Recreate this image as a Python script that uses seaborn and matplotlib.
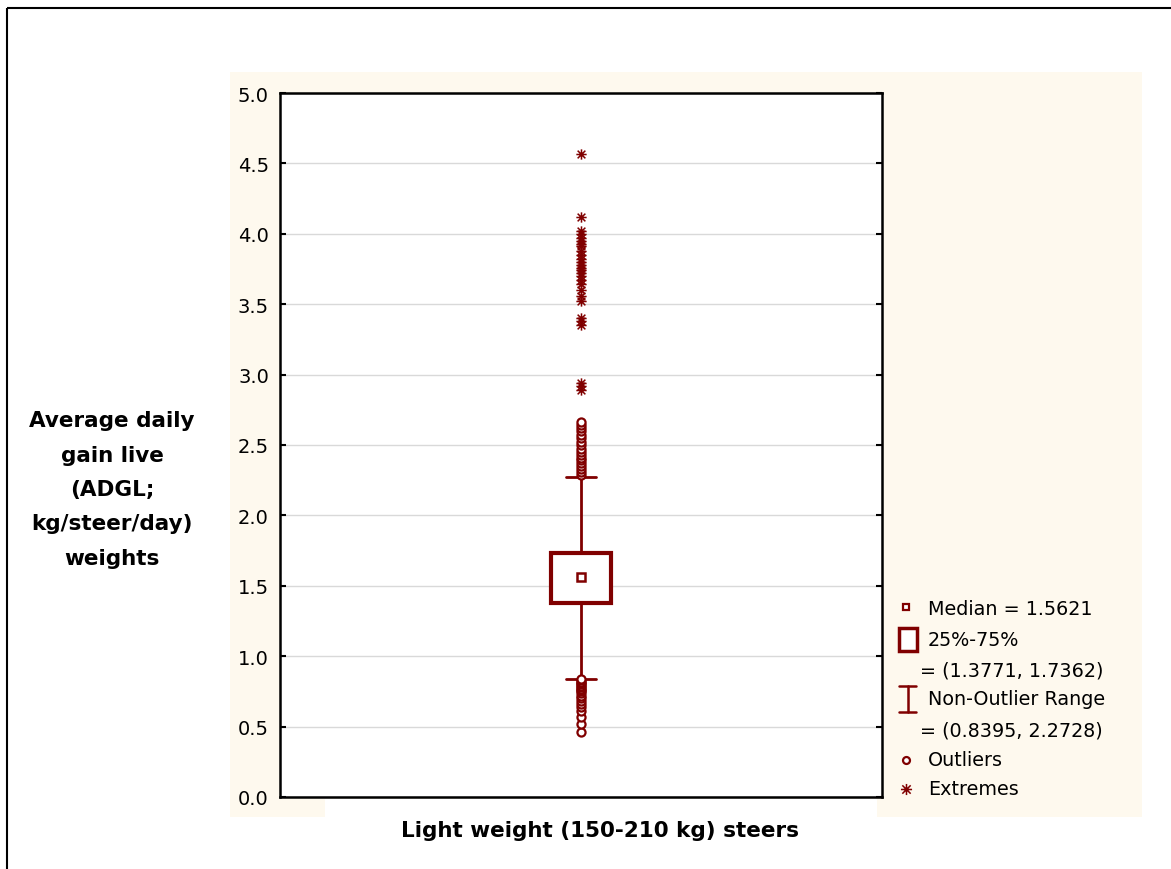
import numpy as np
import pandas as pd
import matplotlib
matplotlib.use("Agg")
import matplotlib.pyplot as plt
from matplotlib.patches import Rectangle
from matplotlib.path import Path
import seaborn as sns

# summary statistics of ADGL (kg/steer/day), light weight steers
median = 1.5621
q1, q3 = 1.3771, 1.7362
whislo, whishi = 0.8395, 2.2728

# points beyond the non-outlier range
outliers = [0.46, 0.52, 0.57, 0.61, 0.64, 0.66, 0.68, 0.70, 0.72, 0.74, 0.75,
            0.76, 0.77, 0.78, 0.79, 0.80, 0.81, 0.82, 0.83, 0.84,
            2.29, 2.31, 2.33, 2.35, 2.37, 2.39, 2.41, 2.43, 2.45, 2.47, 2.50,
            2.52, 2.55, 2.57, 2.60, 2.62, 2.64, 2.66]
extremes = [2.89, 2.92, 2.94, 3.35, 3.38, 3.40, 3.52, 3.56, 3.60, 3.64, 3.67,
            3.70, 3.72, 3.74, 3.76, 3.78, 3.80, 3.82, 3.85, 3.88, 3.91, 3.93,
            3.95, 3.97, 4.00, 4.02, 4.12, 4.57]

group = "Light weight (150-210 kg) steers"
ylabel = "Average daily\ngain live\n(ADGL;\nkg/steer/day)\nweights"
yticks = np.arange(0, 5.01, 0.5)

RED = "#800000"
CREAM = "#FEF9EE"

sns.set_theme(style="white")
plt.rcParams["font.family"] = ["DejaVu Sans"]
plt.rcParams["text.color"] = "black"
plt.rcParams["ytick.color"] = "black"
plt.rcParams["ytick.labelcolor"] = "black"

# asterisk marker used for extremes
star = Path([(-1, 0), (1, 0), (0, -1), (0, 1), (-0.75, -0.75), (0.75, 0.75),
             (-0.75, 0.75), (0.75, -0.75)],
            [Path.MOVETO, Path.LINETO] * 4)

fig = plt.figure(figsize=(11.71, 8.70), dpi=100)

# background layer in pixel coords
bg = fig.add_axes([0, 0, 1, 1], zorder=0)
bg.set_xlim(0, 1171)
bg.set_ylim(870, 0)
bg.axis("off")
bg.add_patch(Rectangle((230, 73), 912, 745, facecolor=CREAM, edgecolor="none"))
bg.add_patch(Rectangle((325, 800), 552, 20, facecolor="white", edgecolor="none"))
bg.add_patch(Rectangle((7, 9), 1200, 900, fill=False, edgecolor="black", lw=1.5))

ax = fig.add_axes([280 / 1171, 72 / 870, 602 / 1171, 704 / 870], zorder=2)
ax.set_facecolor("white")

stats = [dict(med=median, q1=q1, q3=q3, whislo=whislo, whishi=whishi, fliers=[])]
ax.bxp(stats, positions=[0], widths=0.1, capwidths=0.05, showfliers=False,
       patch_artist=True, manage_ticks=False,
       boxprops=dict(facecolor="white", edgecolor=RED, linewidth=3),
       whiskerprops=dict(color=RED, linewidth=2),
       capprops=dict(color=RED, linewidth=2),
       medianprops=dict(linewidth=0))
ax.plot(0, median, marker="s", ms=6, mfc="white", mec=RED, mew=1.8, zorder=4)

df_out = pd.DataFrame({"x": 0.0, "adgl": outliers})
df_ext = pd.DataFrame({"x": 0.0, "adgl": extremes})
sns.scatterplot(data=df_out, x="x", y="adgl", ax=ax, marker="o", s=34,
                color="white", edgecolor=RED, linewidth=1.6, zorder=3, legend=False)
sns.scatterplot(data=df_ext, x="x", y="adgl", ax=ax, marker=star, s=55,
                color=RED, edgecolor=RED, linewidth=1.1, zorder=3, legend=False)

ax.set_xlim(-0.5, 0.5)
ax.set_ylim(0, 5)
ax.set_yticks(yticks)
ax.set_yticklabels([f"{t:.1f}" for t in yticks], fontsize=14, color="black")
ax.set_xticks([])
ax.set_xlabel("")
ax.set_ylabel("")
ax.grid(axis="y", color="#D9D9D9", lw=1)
ax.tick_params(axis="y", left=True, right=True, direction="in", length=4,
               width=1.5, pad=8, colors="black")
for s in ax.spines.values():
    s.set_color("black")
    s.set_linewidth(1.8)

# axis titles
bg.text(112, 490, ylabel, ha="center", va="center", fontsize=15.5,
        fontweight="bold", linespacing=1.9, color="black")
bg.text(600, 831, group, ha="center", va="center", fontsize=15.5,
        fontweight="bold", color="black")

# legend
fs = 13.8
bg.plot(906, 608, "s", ms=5, mfc="white", mec=RED, mew=1.6)
bg.text(928, 610, f"Median = {median:.4f}", va="center", fontsize=fs)
bg.add_patch(Rectangle((899, 629), 18, 23, facecolor="white", edgecolor=RED, lw=2.5))
bg.text(928, 641, "25%-75%", va="center", fontsize=fs)
bg.text(920, 671, f"= ({q1:.4f}, {q3:.4f})", va="center", fontsize=fs)
bg.plot([907.5, 907.5], [687, 713], color=RED, lw=1.8)
bg.plot([899, 916], [687, 687], color=RED, lw=1.8)
bg.plot([899, 916], [713, 713], color=RED, lw=1.8)
bg.text(928, 700, "Non-Outlier Range", va="center", fontsize=fs)
bg.text(920, 731, f"= ({whislo:.4f}, {whishi:.4f})", va="center", fontsize=fs)
bg.plot(906, 761, "o", ms=5, mfc="white", mec=RED, mew=1.6)
bg.text(928, 761, "Outliers", va="center", fontsize=fs)
bg.plot(906, 790, marker=star, ms=8, color=RED, mew=1.1)
bg.text(928, 790, "Extremes", va="center", fontsize=fs)

fig.savefig("out.png", dpi=100)
